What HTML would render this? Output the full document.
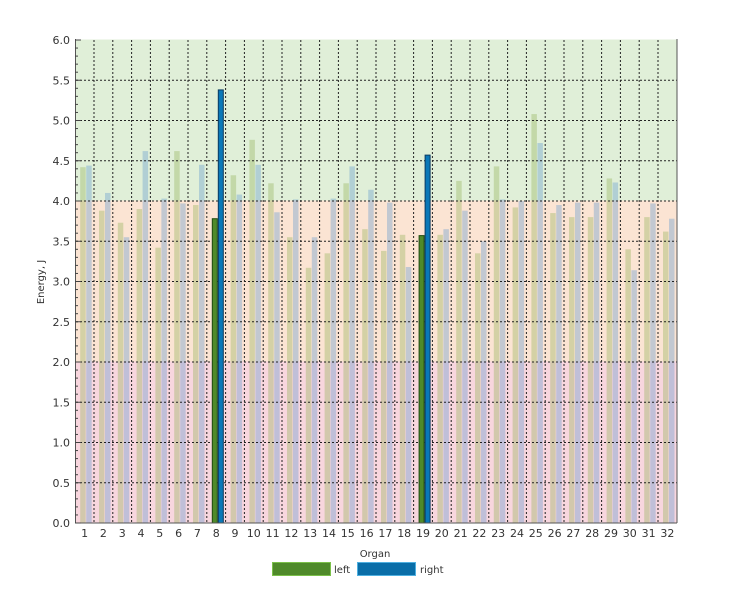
<!DOCTYPE html>
<html><head><meta charset="utf-8"><style>
body{margin:0;background:#fff;}
svg text{font-family:"DejaVu Sans","Liberation Sans",sans-serif;fill:#333;}
</style></head><body>
<svg width="738" height="603" xmlns="http://www.w3.org/2000/svg" id="s">
<rect x="75.5" y="39.5" width="601.5" height="161" fill="#e0efd8"/>
<rect x="75.5" y="200.5" width="601.5" height="161" fill="#fbe4d3"/>
<rect x="75.5" y="361.5" width="601.5" height="161.5" fill="#f8d6de"/>
<g id="bars"></g>
<g id="grid" stroke="#222" stroke-width="1" stroke-dasharray="2,2"></g>
<g id="hl"></g>
<line x1="75.5" y1="39" x2="75.5" y2="523" stroke="#555"/>
<line x1="677" y1="39" x2="677" y2="523" stroke="#555"/>
<line x1="75" y1="523" x2="677" y2="523" stroke="#555"/>
<g id="ticks" stroke="#444"></g>
<g id="lab" font-size="11"></g>
<text x="375" y="557" font-size="10" text-anchor="middle">Organ</text>
<text transform="translate(44,282) rotate(-90)" font-size="10" text-anchor="middle">Energy, J</text>
<rect x="272.5" y="562.5" width="58" height="13" fill="#4f8a2a" stroke="#7bc04a"/>
<text x="334" y="573" font-size="10">left</text>
<rect x="357.5" y="562.5" width="58" height="13" fill="#0a6ea8" stroke="#4fb0e0"/>
<text x="420" y="573" font-size="10">right</text>
</svg>
<script>
var L=[4.42,3.88,3.73,3.90,3.42,4.62,3.95,3.78,4.32,4.76,4.22,3.55,3.17,3.35,4.22,3.65,3.38,3.58,3.57,3.58,4.25,3.35,4.43,3.92,5.08,3.85,3.80,3.80,4.28,3.40,3.80,3.62];
var R=[4.44,4.10,3.55,4.62,4.03,3.97,4.45,5.38,4.08,4.45,3.86,4.02,3.55,4.03,4.43,4.14,3.98,3.18,4.57,3.65,3.88,3.50,4.02,4.00,4.72,3.95,3.98,3.98,4.23,3.14,3.97,3.78];
var ns="http://www.w3.org/2000/svg";
function el(p,t,a,txt){var e=document.createElementNS(ns,t);for(var k in a)e.setAttribute(k,a[k]);if(txt)e.textContent=txt;document.getElementById(p).appendChild(e);}
function y(v){return 523-80.5*v;}
var W=18.8,X0=75.2;
for(var i=0;i<32;i++){var gx=X0+i*W;var hl=(i==7||i==18);
 if(hl){el('hl','rect',{x:gx+5.5,y:y(L[i]),width:5,height:523-y(L[i]),fill:'#4f8a2a',stroke:'#1f4a10','stroke-width':1});
 el('hl','rect',{x:gx+11.5,y:y(R[i]),width:5,height:523-y(R[i]),fill:'#0a78b8',stroke:'#0a3a60','stroke-width':1});}
 else{el('bars','rect',{x:gx+5,y:y(L[i]),width:5.5,height:523-y(L[i]),fill:'rgba(140,175,80,0.35)'});
 el('bars','rect',{x:gx+11,y:y(R[i]),width:5.5,height:523-y(R[i]),fill:'rgba(90,150,205,0.35)'});}
 el('lab','text',{x:gx+W/2,y:537,'text-anchor':'middle'},String(i+1));
 if(i>0)el('grid','line',{x1:gx,y1:40,x2:gx,y2:523});
}
for(var v=0;v<=12;v++){var yy=y(v/2);
 if(v>0&&v<12)el('grid','line',{x1:76,y1:yy,x2:677,y2:yy});
 el('lab','text',{x:70,y:yy+4,'text-anchor':'end'},(v/2).toFixed(1));
 el('ticks','line',{x1:75,y1:yy,x2:81,y2:yy});}
for(var v=0;v<60;v++){var yy=y(v/10);el('ticks','line',{x1:75,y1:yy,x2:78,y2:yy});}
</script>
</body></html>
